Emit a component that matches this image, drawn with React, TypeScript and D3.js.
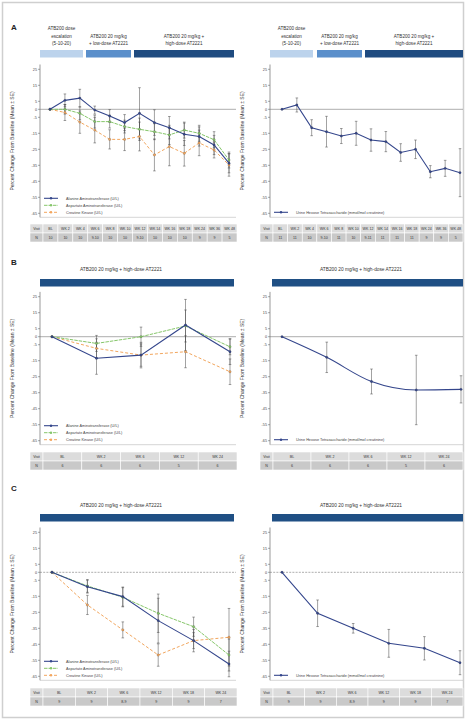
import React, { useEffect, useRef } from "react";
import * as d3 from "d3";

// visits and patient counts
const visitsA = ["BL", "WK 2", "WK 4", "WK 6", "WK 8", "WK 10", "WK 12", "WK 14", "WK 16", "WK 18", "WK 24", "WK 36", "WK 48"];
const nALeft = ["10", "10", "10", "9-10", "10", "10", "9-10", "10", "10", "10", "9", "9", "5"];
const nARight = ["11", "11", "10", "9-10", "11", "10", "9-11", "11", "11", "11", "9", "9", "5"];
const visitsB = ["BL", "WK 2", "WK 6", "WK 12", "WK 24"];
const nBLeft = ["6", "6", "6", "5", "6"];
const nBRight = ["6", "6", "6", "5", "6"];
const visitsC = ["BL", "WK 2", "WK 6", "WK 12", "WK 18", "WK 24"];
const nCLeft = ["9", "9", "8-9", "9", "9", "7"];
const nCRight = ["9", "9", "8-9", "9", "9", "7"];

// panel A, mean % change and SE
const altA = [0, 5.6, 7, -0.5, -4.2, -8.3, -2.5, -8.3, -11.5, -15.6, -17, -22.3, -33.7];
const altASe = [0, 4, 5.5, 2.5, 4, 5, 16, 8, 7, 7, 6, 6, 6];
const astA = [0, 0, -2.5, -7.7, -7.7, -10.8, -12.5, -14, -16, -13, -15, -19, -31.7];
const astASe = [0, 3, 4, 4, 4, 4, 7, 5, 6, 5, 5, 5, 5];
const ckA = [0, -2, -8, -13, -18.8, -18.8, -17, -28.5, -23.3, -27.5, -21, -25.4, -34.8];
const ckASe = [0, 5, 7, 8, 6, 7, 9, 10, 12, 8, 8, 5, 7];
const hexA = [0, 2.7, -11.5, -14, -16.7, -15, -19.2, -20.2, -27, -25, -39, -36.9, -39.6];
const hexASe = [0, 4.4, 5, 9.6, 4.7, 7.5, 7, 6.3, 5.5, 5.8, 3.8, 5, 15];

// panel B
const altB = [0, -13.5, -11.5, 7.3, -9.4];
const altBSe = [0, 10, 7, 16, 8];
const astB = [0, -4.2, 0, 6.7, -6.3];
const astBSe = [0, 5, 6, 10, 5];
const ckB = [0, -7.3, -11.5, -9.4, -21.9];
const ckBSe = [0, 6, 8, 10, 8];
const hexB = [0, -12.9, -28, -33.3, -32.9];
const hexBSe = [0, 9.5, 7.8, 21.7, 8.5];

// panel C
const altC = [0, -9, -15.2, -30.2, -42.7, -57.3];
const altCSe = [0, 4, 6, 14, 7, 8];
const astC = [0, -8.5, -15.6, -25.6, -34, -51.7];
const astCSe = [0, 4, 6, 12, 6, 10];
const ckC = [0, -20.4, -36, -51.7, -42.7, -40.6];
const ckCSe = [0, 6, 5, 7, 5, 18];
const hexC = [0, -25.6, -35, -44.4, -47.5, -56.5];
const hexCSe = [0, 8.3, 3, 8.7, 7.3, 7.5];

const yTicks = [25, 15, 5, 0, -5, -15, -25, -35, -45, -55, -65];
const phaseLabels = [
  ["ATB200 dose", "escalation", "(5-10-20)"],
  ["ATB200 20 mg/kg", "+ low-dose AT2221"],
  ["ATB200 20 mg/kg +", "high-dose AT2221"],
];
const regimenLabel = "ATB200 20 mg/kg + high-dose AT2221";
const enzymeNames = ["Alanine Aminotransferase (U/L)", "Aspartate Aminotransferase (U/L)", "Creatine Kinase (U/L)"];
const hexName = "Urine Hexose Tetrasaccharide (mmol/mol creatinine)";
const yTitle = "Percent Change From Baseline (Mean \u00b1 SE)";

const FONT = "'Liberation Sans', Arial, sans-serif";
const BLUE = "#34468c";
const GREEN = "#86c66a";
const ORANGE = "#f2a65e";

function drawPanel(svg, cfg) {
  const { x0, x1, px, yZero, visits, series, nRow, tx0, tx1, tY, dashedZero, curve } = cfg;
  const g = svg.append("g");
  const y = d3.scaleLinear().domain([28, -67.5]).range([yZero - 44.8, yZero + 108]);
  const x = d3.scalePoint().domain(visits).range(px);
  const yTop = y(28), yBot = y(-67.5);

  // axis
  g.append("line").attr("x1", x0).attr("x2", x0).attr("y1", yTop).attr("y2", yBot)
    .attr("stroke", "#555").attr("stroke-width", 0.6);
  g.append("line").attr("x1", x0).attr("x2", x1).attr("y1", yBot).attr("y2", yBot)
    .attr("stroke", "#aaa").attr("stroke-width", 0.5);
  yTicks.forEach(t => {
    g.append("line").attr("x1", x0 - 2).attr("x2", x0).attr("y1", y(t)).attr("y2", y(t))
      .attr("stroke", "#555").attr("stroke-width", 0.5);
    g.append("text").attr("x", x0 - 3).attr("y", y(t) + 1.4).attr("text-anchor", "end")
      .attr("font-size", 3.8).attr("fill", "#444").text(t);
  });
  g.append("text")
    .attr("transform", `translate(${x0 - 26},${(yTop + yBot) / 2}) rotate(-90)`)
    .attr("text-anchor", "middle").attr("font-size", 5).attr("fill", "#333").text(yTitle);

  // zero line
  g.append("line").attr("x1", x0).attr("x2", x1).attr("y1", y(0)).attr("y2", y(0))
    .attr("stroke", "#777").attr("stroke-width", 0.6)
    .attr("stroke-dasharray", dashedZero ? "2,1.2" : null);

  // error bars
  series.forEach(s => {
    s.values.forEach((v, i) => {
      const e = s.se[i];
      if (!e) return;
      const cx = x(visits[i]);
      g.append("line").attr("x1", cx).attr("x2", cx).attr("y1", y(v + e)).attr("y2", y(v - e))
        .attr("stroke", "#444").attr("stroke-width", 0.5);
      [v + e, v - e].forEach(w => {
        g.append("line").attr("x1", cx - 1.3).attr("x2", cx + 1.3).attr("y1", y(w)).attr("y2", y(w))
          .attr("stroke", "#444").attr("stroke-width", 0.5);
      });
    });
  });

  // lines + markers
  series.slice().reverse().forEach(s => {
    const line = d3.line().x((d, i) => x(visits[i])).y(d => y(d)).curve(curve || d3.curveLinear);
    g.append("path").datum(s.values).attr("d", line).attr("fill", "none")
      .attr("stroke", s.color).attr("stroke-width", s.width || 1)
      .attr("stroke-dasharray", s.dash || null);
    s.values.forEach((v, i) => {
      g.append("circle").attr("cx", x(visits[i])).attr("cy", y(v)).attr("r", 1.2)
        .attr("fill", s.color).attr("stroke", "#333").attr("stroke-width", 0.2);
    });
  });

  // legend
  series.forEach((s, i) => {
    const ly = yBot - 5 - (series.length - 1 - i) * 7;
    g.append("line").attr("x1", x0 + 4).attr("x2", x0 + 18).attr("y1", ly).attr("y2", ly)
      .attr("stroke", s.color).attr("stroke-width", s.width || 1).attr("stroke-dasharray", s.dash || null);
    g.append("circle").attr("cx", x0 + 11).attr("cy", ly).attr("r", 1.2).attr("fill", s.color);
    g.append("text").attr("x", x0 + 26).attr("y", ly + 1.3).attr("font-size", 3.8)
      .attr("fill", "#444").text(s.name);
  });

  // table
  const cols = d3.scaleBand().domain(visits).range([tx0 + 13, tx1]);
  const rows = [["Visit", visits], ["N", nRow]];
  rows.forEach(([head, vals], r) => {
    const ry = tY + r * 9;
    const fill = r === 0 ? "#dcdcdc" : "#c9c9c9";
    g.append("rect").attr("x", tx0).attr("y", ry).attr("width", 13).attr("height", 9)
      .attr("fill", fill).attr("stroke", "#fff").attr("stroke-width", 0.6);
    g.append("text").attr("x", tx0 + 6.5).attr("y", ry + 6).attr("text-anchor", "middle")
      .attr("font-size", 3.6).attr("fill", "#333").text(head);
    visits.forEach((v, i) => {
      g.append("rect").attr("x", cols(v)).attr("y", ry).attr("width", cols.bandwidth()).attr("height", 9)
        .attr("fill", fill).attr("stroke", "#fff").attr("stroke-width", 0.6);
      g.append("text").attr("x", cols(v) + cols.bandwidth() / 2).attr("y", ry + 6)
        .attr("text-anchor", "middle").attr("font-size", 3.6).attr("fill", "#333").text(vals[i]);
    });
  });
}

function drawPhaseHeader(svg, segs) {
  const colors = ["#bcd3ec", "#5a8fcb", "#1f4b80"];
  segs.forEach((s, i) => {
    svg.append("rect").attr("x", s[0]).attr("y", 50).attr("width", s[1] - s[0]).attr("height", 7.5)
      .attr("fill", colors[i]);
    const lines = phaseLabels[i];
    lines.forEach((l, j) => {
      const ly = 45 - (lines.length - 1 - j) * 7.5;
      svg.append("text").attr("x", (s[0] + s[1]) / 2).attr("y", ly).attr("text-anchor", "middle")
        .attr("font-size", 4.6).attr("fill", "#333").text(l);
    });
  });
}

function drawRegimen(svg, xa, xb, textX, textY, barY) {
  svg.append("text").attr("x", textX).attr("y", textY).attr("text-anchor", "middle")
    .attr("font-size", 4.8).attr("fill", "#333").text(regimenLabel);
  svg.append("rect").attr("x", xa).attr("y", barY).attr("width", xb - xa).attr("height", 7.5)
    .attr("fill", "#1f4f84");
}

export default function App() {
  const ref = useRef(null);

  useEffect(() => {
    const svg = d3.select(ref.current);
    svg.selectAll("*").remove();
    svg.attr("font-family", FONT);

    svg.append("rect").attr("width", 466).attr("height", 720).attr("fill", "#fff");
    svg.append("rect").attr("x", 2.5).attr("y", 2.5).attr("width", 461).attr("height", 715)
      .attr("fill", "none").attr("stroke", "#cfcfcf").attr("stroke-width", 1.5);

    [["A", 30], ["B", 265], ["C", 491]].forEach(([t, ty]) => {
      svg.append("text").attr("x", 11).attr("y", ty).attr("font-size", 8).attr("font-weight", "bold")
        .attr("fill", "#222").text(t);
    });

    const enz = (vals, ses) => [
      { name: enzymeNames[0], values: vals[0], se: ses[0], color: BLUE, width: 1.1 },
      { name: enzymeNames[1], values: vals[1], se: ses[1], color: GREEN, dash: "3.5,1" },
      { name: enzymeNames[2], values: vals[2], se: ses[2], color: ORANGE, dash: "3,2" },
    ];
    const hex = (v, s) => [{ name: hexName, values: v, se: s, color: BLUE, width: 1.1 }];

    // panel A
    drawPhaseHeader(svg, [[40, 83], [86, 131], [134, 234]]);
    drawPhaseHeader(svg, [[270, 313], [317, 362], [365, 463]]);
    drawPanel(svg, { x0: 40, x1: 236, px: [50, 229], yZero: 109.3, visits: visitsA,
      series: enz([altA, astA, ckA], [altASe, astASe, ckASe]), nRow: nALeft, tx0: 30, tx1: 237, tY: 224 });
    drawPanel(svg, { x0: 270, x1: 463, px: [282, 460], yZero: 109.3, visits: visitsA,
      series: hex(hexA, hexASe), nRow: nARight, tx0: 260, tx1: 463, tY: 224 });

    // panel B
    drawRegimen(svg, 40, 234, 121, 271, 279);
    drawRegimen(svg, 272, 463, 361, 271, 279);
    drawPanel(svg, { x0: 40, x1: 236, px: [52, 230], yZero: 336.7, visits: visitsB,
      series: enz([altB, astB, ckB], [altBSe, astBSe, ckBSe]), nRow: nBLeft, tx0: 30, tx1: 237, tY: 452 });
    drawPanel(svg, { x0: 270, x1: 463, px: [282, 461], yZero: 336.7, visits: visitsB,
      series: hex(hexB, hexBSe), nRow: nBRight, tx0: 260, tx1: 463, tY: 452, curve: d3.curveMonotoneX });

    // panel C
    drawRegimen(svg, 40, 234, 121, 507, 514);
    drawRegimen(svg, 272, 463, 361, 507, 514);
    drawPanel(svg, { x0: 40, x1: 236, px: [52, 229], yZero: 572.3, visits: visitsC,
      series: enz([altC, astC, ckC], [altCSe, astCSe, ckCSe]), nRow: nCLeft, tx0: 30, tx1: 237, tY: 688, dashedZero: true });
    drawPanel(svg, { x0: 270, x1: 463, px: [282, 460], yZero: 572.3, visits: visitsC,
      series: hex(hexC, hexCSe), nRow: nCRight, tx0: 260, tx1: 463, tY: 688, dashedZero: true });
  }, []);

  return (
    <svg ref={ref} width={466} height={720} style={{ position: "absolute", left: 0, top: 0, display: "block" }} />
  );
}
